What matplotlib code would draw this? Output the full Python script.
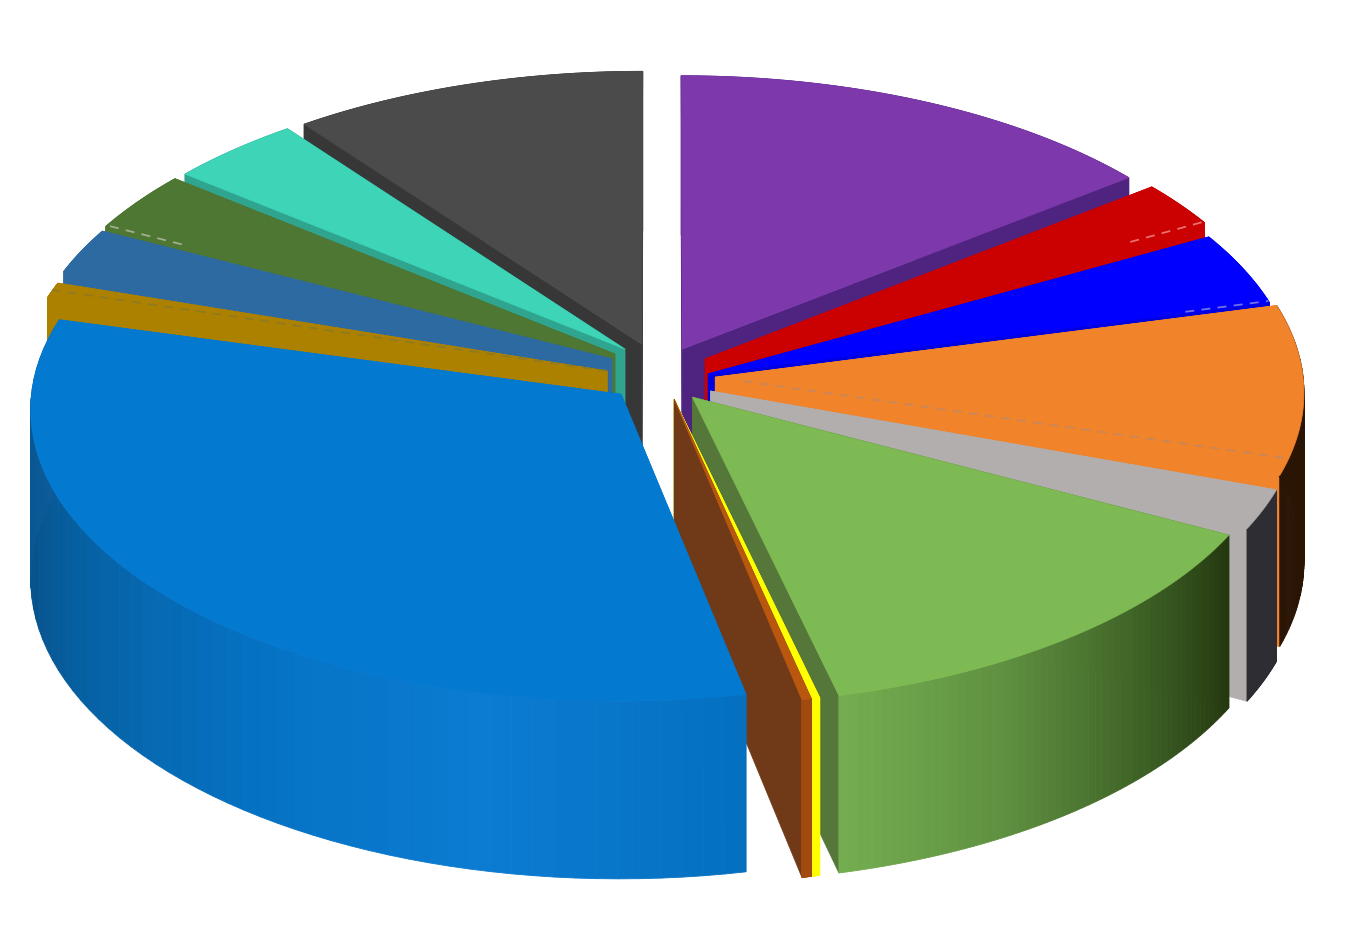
import numpy as np
import matplotlib
matplotlib.use("Agg")
import matplotlib.pyplot as plt
from matplotlib.colors import LinearSegmentedColormap
from matplotlib.patches import Polygon

# slice shares, clockwise from 12 o'clock
names = ["purple", "red", "blue", "orange", "silver", "green", "yellow", "rust",
         "bigblue", "gold", "steel", "olive", "teal", "charcoal"]
shares = [14.44, 2.5, 4.03, 9.44, 2.22, 13.61, 0.22, 0.25, 32.44, 0.83, 2.5, 3.33, 3.89, 10.28]

# look of each slice
top_colors = ["#7d39ac", "#cb0000", "#0000ff", "#f1832a", "#b2aeae", "#7eba54", "#ffff00", "#b9570f",
              "#0479d0", "#ad8100", "#2e6aa2", "#4d7733", "#3dd4b7", "#4b4b4b"]
cut_colors = ["#4f2380", "#cb0000", "#0000e0", "#f1832a", "#b2aeae", "#55773a", "#ffff00", "#703a18",
              "#0479d0", "#ad8100", "#2e6aa2", "#4d7733", "#2fa58f", "#373737"]
rim_stops = {
    "orange": ["#2a1505", "#2a1505"],
    "silver": ["#2d2d33", "#2d2d33"],
    "green": ["#24380f", "#3f6427", "#5f9040", "#73ad50"],
    "yellow": ["#ffff00", "#ffff00"],
    "rust": ["#a04a10", "#a04a10"],
    "bigblue": ["#0570c0", "#0b7cd2", "#0572c4", "#0664a8", "#07538c", "#0d5c9a"],
}
# how far each slice is pulled out of the centre (radius units)
pull_x = [0.038, 0.077, 0.082, 0.094, 0.086, 0.055, 0.024, 0.024, -0.066, -0.090, -0.082, -0.077, -0.060, -0.031]
pull_y = [0.069, 0.035, -0.017, -0.028, -0.076, -0.097, -0.104, -0.104, -0.087, -0.007, 0.035, 0.052, 0.069, 0.086]
draw_order = ["charcoal", "purple", "teal", "red", "olive", "blue", "steel", "gold",
              "orange", "silver", "green", "yellow", "rust", "bigblue"]
# seam colour, position inside the slice, where along the radius it starts
dashed = {"orange": ("#c9865a", 0.90, 0.05), "gold": ("#8f7a20", 0.5, 0.0), "olive": ("#9fb08a", 0.02, 0.85),
          "red": ("#e87070", 0.98, 0.85), "blue": ("#7070e8", 0.98, 0.85)}

cx, cy = 660, 370
a, b = 587, 289
k = 0.05
depth = 168


def project(u, v, z=0.0):
    w = 1 + k * np.asarray(v)
    return cx + a * np.asarray(u) / w, cy - b * np.asarray(v) / w + depth * z / w


fig = plt.figure(figsize=(13.7, 9.53), dpi=100)
ax = fig.add_axes([0, 0, 1, 1])
ax.set_xlim(0, 1370)
ax.set_ylim(953, 0)
ax.axis("off")

edges = np.cumsum([0] + shares) / sum(shares) * 2 * np.pi


def draw_slice(i):
    name = names[i]
    t = np.linspace(edges[i], edges[i + 1], 60)
    ox, oy = pull_x[i], pull_y[i]
    u = ox + np.sin(t)
    v = oy + np.cos(t)

    # two cut faces
    for j in (0, -1):
        px = [project(ox, oy), project(u[j], v[j]), project(u[j], v[j], 1), project(ox, oy, 1)]
        ax.add_patch(Polygon(np.array(px), closed=True, fc=cut_colors[i], ec=cut_colors[i], lw=0.5))

    # outer wall, shaded along the angle
    stops = rim_stops.get(name, [cut_colors[i], cut_colors[i]])
    cmap = LinearSegmentedColormap.from_list(name, stops)
    for n in range(len(t) - 1):
        c = cmap(n / (len(t) - 2))
        px = [project(u[n], v[n]), project(u[n + 1], v[n + 1]),
              project(u[n + 1], v[n + 1], 1), project(u[n], v[n], 1)]
        ax.add_patch(Polygon(np.array(px), closed=True, fc=c, ec=c, lw=0.6))

    # top face
    x, y = project(np.r_[ox, u], np.r_[oy, v])
    ax.add_patch(Polygon(np.c_[x, y], closed=True, fc=top_colors[i], ec=top_colors[i], lw=0.5))

    # faint dashed seam seen on some faces
    if name in dashed:
        col, frac, start = dashed[name]
        ang = edges[i] + frac * (edges[i + 1] - edges[i])
        x, y = project([ox + start * np.sin(ang), ox + np.sin(ang)], [oy + start * np.cos(ang), oy + np.cos(ang)])
        ax.plot(x, y, color=col, lw=1.3, ls=(0, (5, 4)))


for name in draw_order:
    draw_slice(names.index(name))

fig.savefig("out.png", dpi=100, facecolor="white")
